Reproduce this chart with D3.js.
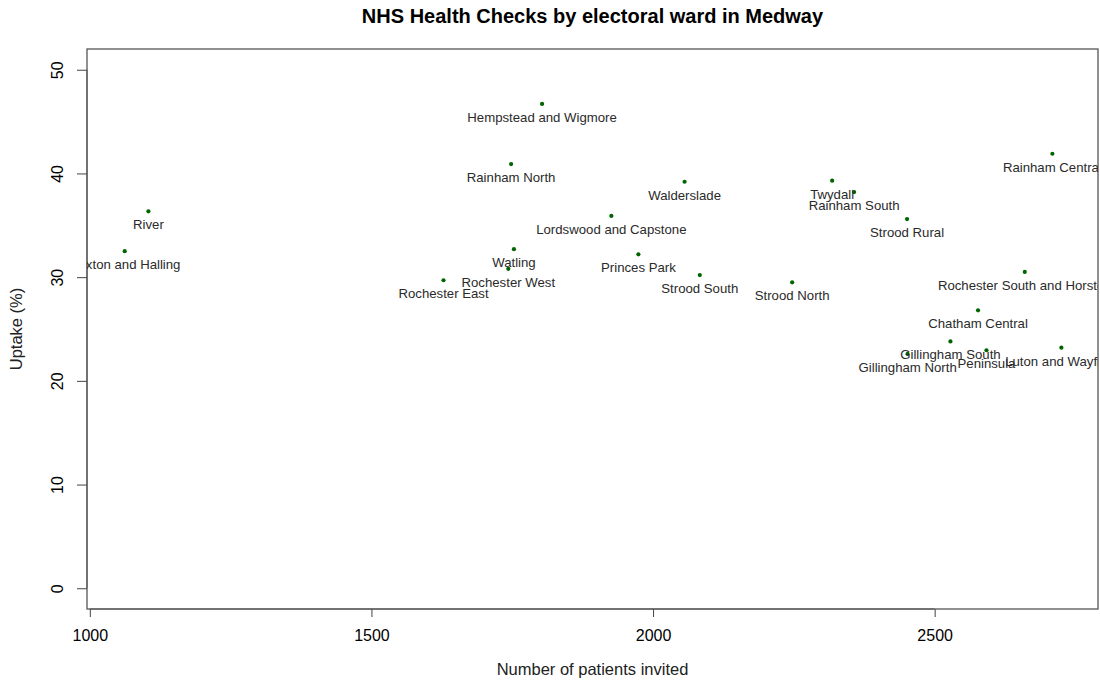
<!DOCTYPE html>
<html>
<head>
<meta charset="utf-8">
<script src="https://cdn.jsdelivr.net/npm/d3@7/dist/d3.min.js"></script>
<style>
  html, body { margin: 0; padding: 0; background: #fff; }
  text { font-family: "Liberation Sans", Arial, sans-serif; }
</style>
</head>
<body>
<svg id="chart" width="1100" height="681"></svg>
<script>
// ---- data ----
const wards = [
  "Hempstead and Wigmore", "Rainham North", "Walderslade", "Lordswood and Capstone",
  "Watling", "Rochester West", "Rochester East", "Princes Park", "Strood South",
  "Rainham Central", "Twydall", "Rainham South", "Strood Rural", "Strood North",
  "Rochester South and Horsted", "Chatham Central", "Gillingham South",
  "Gillingham North", "Peninsula", "Luton and Wayfield", "River", "Cuxton and Halling"
];
const invited = [1803, 1748, 2056, 1926, 1753, 1743, 1628, 1974, 2083,
                 2709, 2318, 2357, 2451, 2247, 2660, 2577, 2528,
                 2452, 2592, 2725, 1104, 1062];
const uptake  = [46.7, 40.9, 39.2, 35.9, 32.7, 30.8, 29.7, 32.2, 30.2,
                 41.9, 39.3, 38.2, 35.6, 29.5, 30.5, 26.8, 23.8,
                 22.6, 22.95, 23.2, 36.35, 32.5];
const xTicks = [1000, 1500, 2000, 2500];
const yTicks = [0, 10, 20, 30, 40, 50];
const titleText = "NHS Health Checks by electoral ward in Medway";
const xLabel = "Number of patients invited";
const yLabel = "Uptake (%)";

// ---- layout ----
const box = { left: 87, right: 1098, top: 49, bottom: 609 };
const svg = d3.select("#chart");

const x = d3.scaleLinear().domain([995, 2790]).range([box.left, box.right]);
const y = d3.scaleLinear().domain([-2, 52]).range([box.bottom, box.top]);

// clip
svg.append("defs").append("clipPath").attr("id", "plotclip")
  .append("rect")
  .attr("x", box.left).attr("y", box.top)
  .attr("width", box.right - box.left).attr("height", box.bottom - box.top);

// title
svg.append("text")
  .attr("x", (box.left + box.right) / 2).attr("y", 23)
  .attr("text-anchor", "middle")
  .attr("font-weight", "bold").attr("font-size", 20)
  .attr("fill", "#000")
  .text(titleText);

// x axis
const xAxis = svg.append("g").attr("transform", `translate(0,${box.bottom})`)
  .call(d3.axisBottom(x).tickValues(xTicks).tickSize(8).tickFormat(d3.format("d")));
xAxis.select(".domain").attr("d", `M${x(xTicks[0])},0H${x(xTicks[xTicks.length-1])}`).attr("stroke", "#555");
xAxis.selectAll(".tick line").attr("stroke", "#444");
xAxis.selectAll(".tick text")
  .attr("font-family", "'Liberation Sans', Arial, sans-serif")
  .attr("font-size", 16).attr("fill", "#000").attr("dy", null).attr("y", 32);

// y axis
const yAxis = svg.append("g").attr("transform", `translate(${box.left},0)`)
  .call(d3.axisLeft(y).tickValues(yTicks).tickSize(10).tickFormat(d3.format("d")));
yAxis.select(".domain").attr("d", `M0,${y(yTicks[0])}V${y(yTicks[yTicks.length-1])}`).attr("stroke", "#555");
yAxis.selectAll(".tick line").attr("stroke", "#444");
yAxis.selectAll(".tick text")
  .attr("font-family", "'Liberation Sans', Arial, sans-serif")
  .attr("font-size", 16).attr("fill", "#000")
  .attr("x", null).attr("dy", null)
  .attr("text-anchor", "middle")
  .attr("transform", "translate(-24,0) rotate(-90)");

// box
svg.append("rect")
  .attr("x", box.left).attr("y", box.top)
  .attr("width", box.right - box.left).attr("height", box.bottom - box.top)
  .attr("fill", "none").attr("stroke", "#555").attr("stroke-width", 1.3);

// axis titles
svg.append("text")
  .attr("x", (box.left + box.right) / 2).attr("y", 675)
  .attr("text-anchor", "middle").attr("font-size", 16.5).attr("fill", "#222")
  .text(xLabel);
svg.append("text")
  .attr("transform", `translate(22,${(box.top + box.bottom) / 2}) rotate(-90)`)
  .attr("text-anchor", "middle").attr("font-size", 16.5).attr("fill", "#222")
  .text(yLabel);

// points + labels
const plot = svg.append("g").attr("clip-path", "url(#plotclip)");
const data = wards.map((w, i) => ({ name: w, x: invited[i], y: uptake[i] }));

plot.selectAll("circle").data(data).enter().append("circle")
  .attr("cx", d => x(d.x)).attr("cy", d => y(d.y))
  .attr("r", 2.1).attr("fill", "#006400");

plot.selectAll("text.lbl").data(data).enter().append("text")
  .attr("class", "lbl")
  .attr("x", d => x(d.x)).attr("y", d => y(d.y) + 18)
  .attr("text-anchor", "middle").attr("font-size", 13.2).attr("fill", "#2a2a2a")
  .text(d => d.name);
</script>
</body>
</html>
